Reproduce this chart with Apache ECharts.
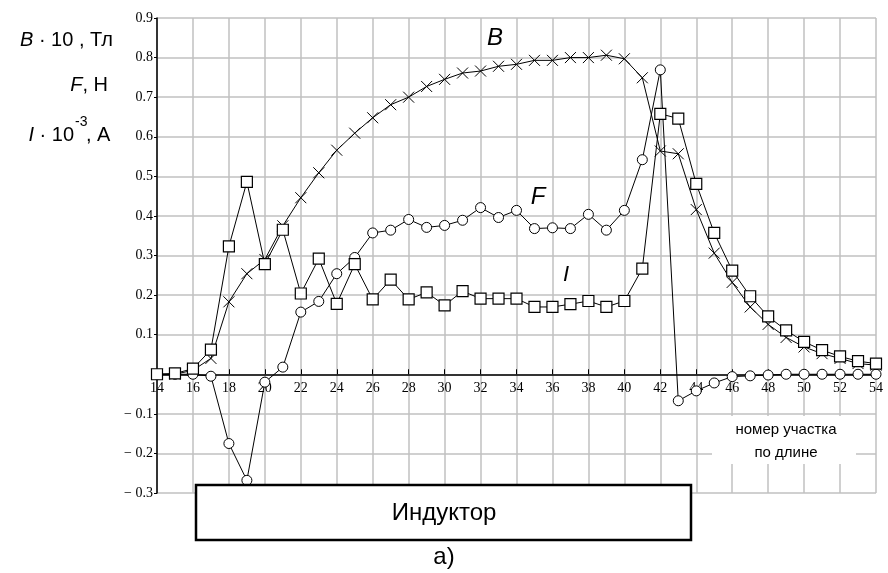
<!DOCTYPE html>
<html>
<head>
<meta charset="utf-8">
<script src="https://cdn.jsdelivr.net/npm/echarts@6/dist/echarts.min.js"></script>
<style>
  html, body { margin: 0; padding: 0; background: #fff; }
  #chart { width: 888px; height: 573px; }
</style>
</head>
<body>
<div id="chart"></div>
<script>
// номер участка по длине: 14 .. 54
var sections = [];
for (var k = 14; k <= 54; k++) sections.push(k);

// B·10, Тл
var bValues = [0, 0, 0.01, 0.04, 0.183, 0.254, 0.29, 0.375, 0.446, 0.509,
  0.566, 0.609, 0.648, 0.681, 0.70, 0.727, 0.745, 0.761, 0.766, 0.778,
  0.783, 0.793, 0.793, 0.80, 0.80, 0.806, 0.797, 0.749, 0.564, 0.557,
  0.416, 0.306, 0.232, 0.170, 0.126, 0.093, 0.069, 0.052, 0.040, 0.027, 0.023];

// F, Н
var fValues = [0, 0, 0, -0.005, -0.175, -0.268, -0.02, 0.018, 0.157, 0.184,
  0.254, 0.295, 0.357, 0.364, 0.391, 0.371, 0.376, 0.389, 0.421, 0.396,
  0.414, 0.368, 0.370, 0.368, 0.404, 0.364, 0.414, 0.542, 0.769, -0.067,
  -0.042, -0.022, -0.006, -0.004, -0.002, 0, 0, 0, 0, 0, 0];

// I·10^-3, A
var iValues = [0, 0.002, 0.014, 0.062, 0.323, 0.486, 0.278, 0.365, 0.204, 0.292,
  0.178, 0.278, 0.189, 0.239, 0.189, 0.207, 0.174, 0.210, 0.191, 0.191,
  0.191, 0.170, 0.170, 0.177, 0.185, 0.170, 0.185, 0.267, 0.658, 0.646,
  0.481, 0.357, 0.262, 0.197, 0.146, 0.111, 0.082, 0.061, 0.045, 0.033, 0.027];

var yMin = -0.3, yMax = 0.9;

function pairs (vals) {
  return sections.map(function (x, i) { return [x, vals[i]]; });
}

var serif = 'Liberation Serif';
var sans = 'Liberation Sans';

var gridTop = 18, gridBottom = 80, chartH = 573;
// ось X проходит через ноль: сдвигаем её вверх от нижнего края сетки
var plotH = chartH - gridTop - gridBottom;
var zeroShift = plotH * (0 - yMin) / (yMax - yMin);

var chart = echarts.init(document.getElementById('chart'));
chart.setOption({
  animation: false,
  backgroundColor: '#fff',
  grid: { left: 157, right: 12, top: gridTop, bottom: gridBottom, containLabel: false, outerBoundsMode: 'none' },
  xAxis: {
    type: 'value',
    min: 14,
    max: 54,
    interval: 2,
    offset: -zeroShift,
    axisLine: { onZero: false, lineStyle: { color: '#000', width: 1.5 } },
    axisTick: { inside: true, length: 5, lineStyle: { color: '#000' } },
    axisLabel: { color: '#000', fontFamily: serif, fontSize: 14, margin: 7 },
    splitLine: { lineStyle: { color: '#c0c0c0', width: 1.5 } }
  },
  yAxis: {
    type: 'value',
    min: yMin,
    max: yMax,
    interval: 0.1,
    axisLine: { onZero: false, lineStyle: { color: '#000', width: 1.5 } },
    axisTick: { length: 3, lineStyle: { color: '#000' } },
    axisLabel: {
      color: '#000', fontFamily: serif, fontSize: 14, margin: 4,
      formatter: function (v) {
        if (Math.abs(v) < 1e-9) return '';
        if (v < 0) return '\u2212 ' + Math.abs(v).toFixed(1);
        return v.toFixed(1);
      }
    },
    splitLine: { lineStyle: { color: '#c0c0c0', width: 1.5 } }
  },
  series: [
    {
      name: 'B',
      type: 'line',
      data: pairs(bValues),
      symbol: 'path://M0,0L10,10M10,0L0,10',
      symbolSize: 11,
      lineStyle: { color: '#000', width: 1 },
      itemStyle: { color: 'none', borderColor: '#000', borderWidth: 1 },
      z: 3
    },
    {
      name: 'F',
      type: 'line',
      data: pairs(fValues),
      symbol: 'circle',
      symbolSize: 10,
      lineStyle: { color: '#000', width: 1 },
      itemStyle: { color: '#fff', borderColor: '#000', borderWidth: 1 },
      z: 4
    },
    {
      name: 'I',
      type: 'line',
      data: pairs(iValues),
      symbol: 'rect',
      symbolSize: 11,
      lineStyle: { color: '#000', width: 1 },
      itemStyle: { color: '#fff', borderColor: '#000', borderWidth: 1.2 },
      z: 5
    }
  ],
  graphic: [
    // подписи осей слева
    { type: 'text', x: 113, y: 40, z: 10, style: {
      text: '{i|B} · 10 , Тл', align: 'right', verticalAlign: 'middle',
      font: '20px ' + sans, fill: '#000',
      rich: { i: { fontStyle: 'italic', fontSize: 20, fontFamily: sans } } } },
    { type: 'text', x: 108, y: 85, z: 10, style: {
      text: '{i|F}, Н', align: 'right', verticalAlign: 'middle',
      font: '20px ' + sans, fill: '#000',
      rich: { i: { fontStyle: 'italic', fontSize: 20, fontFamily: sans } } } },
    { type: 'text', x: 74, y: 135, z: 10, style: {
      text: '{i|I} · 10', align: 'right', verticalAlign: 'middle',
      font: '20px ' + sans, fill: '#000',
      rich: { i: { fontStyle: 'italic', fontSize: 20, fontFamily: sans } } } },
    { type: 'text', x: 75, y: 122, z: 10, style: {
      text: '-3', align: 'left', verticalAlign: 'middle',
      font: '14px ' + sans, fill: '#000' } },
    { type: 'text', x: 86, y: 135, z: 10, style: {
      text: ', A', align: 'left', verticalAlign: 'middle',
      font: '20px ' + sans, fill: '#000' } },
    // подписи кривых
    { type: 'text', x: 495, y: 38, z: 10, style: {
      text: 'B', align: 'center', verticalAlign: 'middle',
      font: 'italic 24px ' + sans, fill: '#000' } },
    { type: 'text', x: 538, y: 197, z: 10, style: {
      text: 'F', align: 'center', verticalAlign: 'middle',
      font: 'italic 24px ' + sans, fill: '#000' } },
    { type: 'text', x: 566, y: 275, z: 10, style: {
      text: 'I', align: 'center', verticalAlign: 'middle',
      font: 'italic 22px ' + sans, fill: '#000' } },
    // номер участка по длине
    { type: 'rect', z: 10, shape: { x: 712, y: 416, width: 144, height: 48 },
      style: { fill: '#fff', stroke: null } },
    { type: 'text', x: 786, y: 430, z: 11, style: {
      text: 'номер участка', align: 'center', verticalAlign: 'middle',
      font: '15px ' + sans, fill: '#000' } },
    { type: 'text', x: 786, y: 453, z: 11, style: {
      text: 'по длине', align: 'center', verticalAlign: 'middle',
      font: '15px ' + sans, fill: '#000' } },
    // Индуктор
    { type: 'rect', z: 10, shape: { x: 196, y: 485, width: 495, height: 55 },
      style: { fill: '#fff', stroke: '#000', lineWidth: 2.5 } },
    { type: 'text', x: 444, y: 513, z: 11, style: {
      text: 'Индуктор', align: 'center', verticalAlign: 'middle',
      font: '24px ' + sans, fill: '#000' } },
    { type: 'text', x: 444, y: 557, z: 11, style: {
      text: 'а)', align: 'center', verticalAlign: 'middle',
      font: '24px ' + sans, fill: '#000' } }
  ]
});
</script>
</body>
</html>
